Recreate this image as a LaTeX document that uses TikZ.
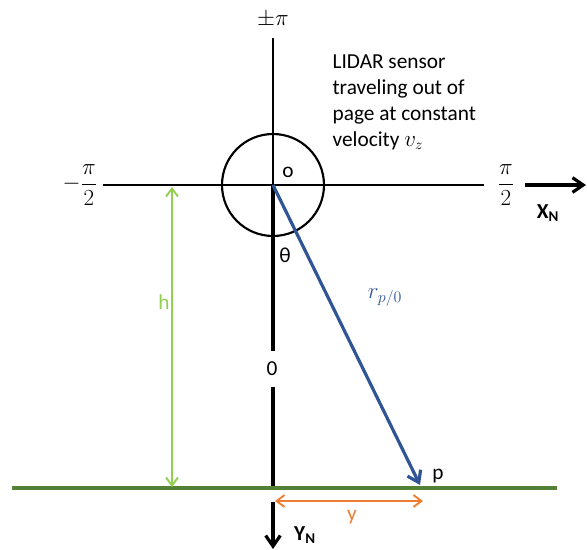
\documentclass[tikz,border=0pt]{standalone}
\usepackage{fontspec}
\setmainfont{Carlito}
\usepackage{amsmath}
\usetikzlibrary{arrows.meta, positioning}
\definecolor{rblue}{RGB}{47,85,151}
\definecolor{hgreen}{RGB}{146,208,80}
\definecolor{gndgreen}{RGB}{84,130,53}
\definecolor{yorange}{RGB}{237,125,49}

\begin{document}
\begin{tikzpicture}[x=0.75pt, y=-0.75pt, font=\fontsize{16}{19.5}\selectfont,
  axis/.style={line width=0.8pt},
  barb/.style={-{Straight Barb[length=8pt,width=11pt]}},
  dimline/.style={{Straight Barb[length=6pt,width=9pt]}-{Straight Barb[length=6pt,width=9pt]}, line width=1.4pt},
  lbl/.style={inner sep=1pt}]

  % --- Cornice ---
  \useasboundingbox (0,0) rectangle (587,550);

  % --- Punti principali ---
  \coordinate (O) at (273,185);
  \coordinate (gndL) at (12,488);
  \coordinate (gndR) at (557,488);
  \coordinate (gndO) at (273,488);
  \coordinate (P) at (420,485);

  % --- Etichette degli assi ---
  \node[lbl, font=\fontsize{17}{20}\selectfont] (pm) at (273,20) {$\pm\pi$};
  \node[lbl, font=\fontsize{17}{20}\selectfont] (west) at (80,185) {$-\dfrac{\pi}{2}$};
  \node[lbl, font=\fontsize{17}{20}\selectfont] (east) at (506,185) {$\dfrac{\pi}{2}$};
  \node[lbl] (zero) at (272,369) {0};
  \coordinate (xs) at (525,185);
  \coordinate (xe) at (586,185);
  \node[lbl, font=\fontsize{16}{18}\selectfont\bfseries] (XN) at (548,213) {X\textsubscript{N}};

  % --- Assi sottili ---
  \draw[axis] (273,38) -- (O);
  \draw[axis] (103,185) -- (484,185);
  \draw[line width=1.6pt] (O) circle (51);
  \node[lbl] (o) at (288,172) {o};

  % --- Asse verticale spesso ---
  \draw[line width=2.6pt] (O) -- (273,351);
  \draw[line width=2.6pt] (273,387) -- (gndO);
  \node[lbl] (theta) at (285,255) {θ};

  % --- Freccia X_N ---
  \draw[barb, line width=2.4pt] (xs) -- (xe);

  % --- Terreno ---
  \draw[gndgreen, line width=2.6pt] (gndL) -- (gndR);

  % --- Vettore r_{p/0} ---
  \draw[rblue, barb, line width=2.4pt] (O) -- (P);
  \node[lbl, rblue, font=\fontsize{18}{20}\selectfont] (r) at (385,298) {$r_{p/0}$};
  \node[lbl] (p) at (438,476) {p};

  % --- Quota h ---
  \coordinate (ht) at (172,187);
  \coordinate (hb) at (172,487);
  \draw[hgreen, dimline] (ht) -- (hb);
  \node[lbl, hgreen] (h) at (164,302) {h};

  % --- Distanza y ---
  \coordinate (yl) at (275,501);
  \coordinate (yr) at (423,501);
  \draw[yorange, dimline] (yl) -- (yr);
  \node[lbl, yorange] (y) at (352,517) {y};

  % --- Freccia Y_N ---
  \coordinate (ys) at (273,502);
  \coordinate (ye) at (273,549);
  \draw[barb, line width=2.4pt] (ys) -- (ye);
  \node[lbl, font=\fontsize{16}{18}\selectfont\bfseries] (YN) at (305,535) {Y\textsubscript{N}};

  % --- Testo LIDAR ---
  \node[lbl, anchor=north west, align=left] (lidar) at (331,53)
    {LIDAR sensor\\traveling out of\\page at constant\\velocity $v_z$};

\end{tikzpicture}
\end{document}
